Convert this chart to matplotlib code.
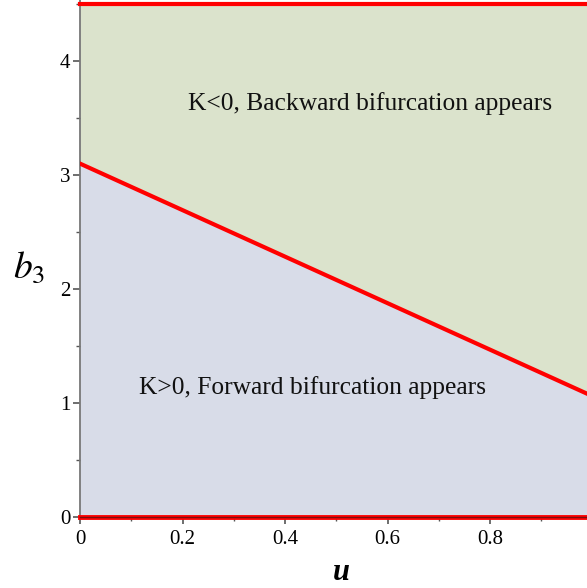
import matplotlib
matplotlib.use("Agg")
import matplotlib.pyplot as plt
import numpy as np
from matplotlib.ticker import MultipleLocator

# data
u_line = [0.0, 1.0]
b3_line = [3.10, 1.06]
b3_top = 4.5
b3_bottom = 0.0
xticks = [0, 0.2, 0.4, 0.6, 0.8]
xtick_labels = ["0", "0.2", "0.4", "0.6", "0.8"]
yticks = [0, 1, 2, 3, 4]
ytick_labels = ["0", "1", "2", "3", "4"]
label_upper = "K<0, Backward bifurcation appears"
label_lower = "K>0, Forward bifurcation appears"

plt.rcParams['font.family'] = ['Liberation Serif', 'DejaVu Serif']
plt.rcParams['mathtext.fontset'] = 'stix'

W, H = 587, 588
fig = plt.figure(figsize=(W/100, H/100), dpi=100)
x0_px, y0_px = 80, 517
px_per_x = 512.5
px_per_y = 114.0
ax = fig.add_axes([x0_px/W, 1 - y0_px/H, (W - x0_px)/W, y0_px/H])
xmax = (W - x0_px)/px_per_x
ymax = y0_px/px_per_y
ax.set_xlim(0, xmax)
ax.set_ylim(0, ymax)

uu = np.array(u_line)
bb = np.array(b3_line)
ax.fill_between(uu, bb, b3_top, color='#dbe3cc', lw=0, zorder=1)
ax.fill_between(uu, b3_bottom, bb, color='#d8dce8', lw=0, zorder=1)

ax.plot(uu, bb, color='#ff0000', lw=3, zorder=3, clip_on=True)
ax.plot([0, 1], [b3_top, b3_top], color='#ff0000', lw=3, zorder=3, clip_on=False)
ax.plot([0, 1], [b3_bottom, b3_bottom], color='#ff0000', lw=3.5, zorder=3, clip_on=False)
ax.plot([0, 1], [b3_bottom, b3_bottom], color='#7a1010', lw=1.0, zorder=4, clip_on=False)

for s in ['top', 'right']:
    ax.spines[s].set_visible(False)
for s in ['left', 'bottom']:
    ax.spines[s].set_color('#777777')
    ax.spines[s].set_linewidth(1.3)

ax.set_xticks(xticks)
ax.set_xticklabels(xtick_labels)
ax.set_yticks(yticks)
ax.set_yticklabels(ytick_labels)
ax.xaxis.set_minor_locator(MultipleLocator(0.1))
ax.yaxis.set_minor_locator(MultipleLocator(0.5))
ax.tick_params(which='major', length=5, width=1.2, color='#555555', labelsize=15, direction='out')
ax.tick_params(which='minor', length=3, width=1.0, color='#555555', direction='out')
ax.tick_params(axis='x', pad=4)
ax.tick_params(axis='y', pad=2)

ax.text(0.566, 3.63, label_upper, ha='center', va='center', fontsize=18.4, color='#111111', zorder=5)
ax.text(0.453, 1.14, label_lower, ha='center', va='center', fontsize=18.4, color='#111111', zorder=5)

fig.text(29/W, 1 - 268/H, r'$b_3$', fontsize=27, ha='center', va='center')
fig.text(341/W, 1 - 573/H, 'u', fontsize=22, fontstyle='italic', fontweight='bold', ha='center', va='center')

fig.savefig('out.png', dpi=100)
